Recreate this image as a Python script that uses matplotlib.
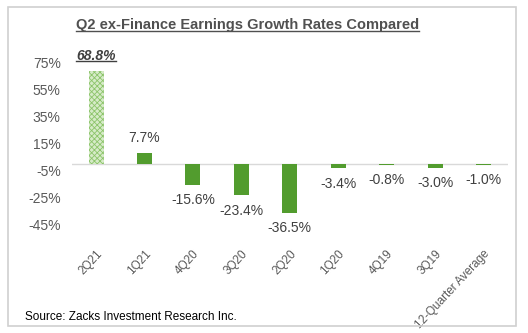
import matplotlib
matplotlib.use('Agg')
import matplotlib.pyplot as plt
from matplotlib.patches import Rectangle
from matplotlib.lines import Line2D

# 数据
quarters = ['2Q21', '1Q21', '4Q20', '3Q20', '2Q20', '1Q20', '4Q19', '3Q19', '12-Quarter Average']
growth = [68.8, 7.7, -15.6, -23.4, -36.5, -3.4, -0.8, -3.0, -1.0]
yticks = [75, 55, 35, 15, -5, -25, -45]

plt.rcParams['font.family'] = ['Liberation Sans', 'DejaVu Sans']
plt.rcParams['hatch.linewidth'] = 0.6

fig = plt.figure(figsize=(5.28, 3.33), dpi=100)
ax = fig.add_axes([0.136, 0.285, 0.826, 0.568])

# 外框
fig.patches.append(Rectangle((8 / 528, 7 / 333), 508 / 528, 319 / 333, transform=fig.transFigure,
                             fill=False, edgecolor='#d0d0d0', linewidth=1.2))

x = list(range(len(quarters)))
bars = ax.bar(x, growth, width=0.31, color='#529c2e', linewidth=0)
# 第一根柱子用浅绿色纹理
bars[0].set_facecolor('#d6ebc8')
bars[0].set_hatch('xxxxxx')
bars[0].set_edgecolor('#8cc46a')

ax.axhline(0, color='#d9d9d9', linewidth=1, zorder=0)
ax.set_ylim(-55, 85)
ax.set_xlim(-0.5, len(quarters) - 0.5)
ax.set_yticks(yticks)
ax.set_yticklabels([f'{v}%' for v in yticks], fontsize=10, color='#595959')
ax.set_xticks(x)
ax.set_xticklabels(quarters, rotation=47, ha='right', rotation_mode='anchor', fontsize=8.5, color='#595959')
ax.tick_params(axis='y', length=0, pad=8)
ax.tick_params(axis='x', length=0, pad=7)
for s in ax.spines.values():
    s.set_visible(False)

# 数据标签
labels = []
for i, v in enumerate(growth):
    if i == 0:
        t = ax.annotate(f'{v}%', (i, v), xytext=(0, 6), textcoords='offset points', ha='center', va='bottom',
                        fontsize=10, fontweight='bold', fontstyle='italic', color='#404040')
        labels.append(t)
    elif v >= 0:
        ax.annotate(f'{v}%', (i, v), xytext=(0, 6), textcoords='offset points', ha='center', va='bottom',
                    fontsize=10, color='#404040')
    else:
        ax.annotate(f'{v}%', (i, v), xytext=(0, -6), textcoords='offset points', ha='center', va='top',
                    fontsize=10, color='#404040')

title = fig.text(0.468, 0.925, 'Q2 ex-Finance Earnings Growth Rates Compared', ha='center', va='center',
                 fontsize=10.5, fontweight='bold', color='#505050')
labels.append(title)
fig.text(0.048, 0.047, 'Source: Zacks Investment Research Inc.', ha='left', va='center', fontsize=8.5, color='#000000')

# 下划线
fig.canvas.draw()
r = fig.canvas.get_renderer()
for t in labels:
    bb = t.get_window_extent(r).transformed(fig.transFigure.inverted())
    fig.add_artist(Line2D([bb.x0, bb.x1], [bb.y0 + 0.004, bb.y0 + 0.004], transform=fig.transFigure,
                          color=t.get_color(), linewidth=1))

fig.savefig('out.png', dpi=100)
